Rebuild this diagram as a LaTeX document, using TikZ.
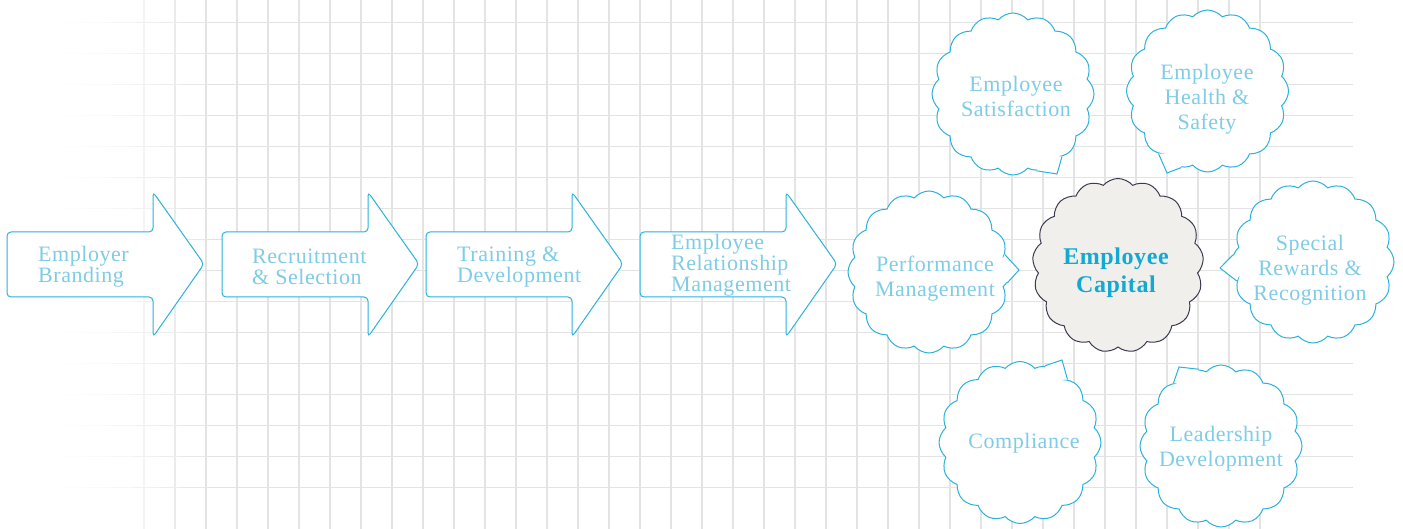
\documentclass[tikz,border=0pt]{standalone}
\usepackage{fontspec}
\setmainfont{Liberation Serif}[LetterSpace=2.5]
\usetikzlibrary{shapes.symbols,calc}
\definecolor{gridgray}{HTML}{E3E3E3}
\definecolor{outcyan}{HTML}{2AB2DC}
\definecolor{txtblue}{HTML}{7FCCE6}
\definecolor{capblue}{HTML}{12A9D2}
\definecolor{corefill}{HTML}{F1EFEB}
\definecolor{coreline}{HTML}{3C3A52}
\begin{document}
\begin{tikzpicture}[x=1pt,y=-1pt]
			\tikzstyle{gridline} = [gridgray, line width=1.1pt]
			\tikzstyle{flowarrow} = [draw=outcyan, fill=white, line width=1pt, rounded corners=4pt]
			\tikzstyle{flowtext} = [anchor=west, align=left, inner sep=0, text=txtblue, font=\fontsize{22}{21}\selectfont]
			\tikzstyle{bubble} = [cloud, cloud puffs=16, cloud puff arc=100, cloud ignores aspect, draw=outcyan, fill=white, line width=1pt, minimum width=162pt, minimum height=162pt, inner sep=0]
			\tikzstyle{core} = [bubble, cloud puffs=17, draw=coreline, fill=corefill, minimum width=171pt, minimum height=174pt]
			\tikzstyle{bubbletext} = [align=center, inner sep=0, text=txtblue, font=\fontsize{22}{25}\selectfont]
			\tikzstyle{coretext} = [bubbletext, text=capblue, font=\bfseries\fontsize{24}{27.5}\selectfont]
			\tikzstyle{tail} = [draw=outcyan, line width=1pt, line join=miter]
			\useasboundingbox (0,0) rectangle (1403,529);
			% grid paper
			\foreach \gx in {206,237,...,1260}
			{
				\draw[gridline] (\gx,0) -- (\gx,529);
			}
			\draw[gridline, gridgray!40] (144,0) -- (144,529);
			\draw[gridline, gridgray!70] (175,0) -- (175,529);
			\foreach \gy in {22.3,53.3,...,488}
			{
				\draw[gridline] (206,\gy) -- (1353,\gy);
				\foreach \fx/\fk in {62/8,86/18,110/32,134/48,158/64,182/82}
					\draw[gridline, gridgray!\fk] (\fx,\gy) -- (\fx+24,\gy);
			}
			% process arrows
			\foreach \ax in {7,222,426,640}
			{
				\draw[flowarrow] (\ax,232) -- (\ax+146,232) -- (\ax+146,192) -- (\ax+197,264) -- (\ax+146,337) -- (\ax+146,297) -- (\ax,297) -- cycle;
			}
			\node[flowtext] (brand) at (38,267) {Employer\\Branding};
			\node[flowtext] (recruit) at (252,267) {Recruitment\\\& Selection};
			\node[flowtext] (train) at (457,267) {Training \&\\Development};
			\node[flowtext] (relation) at (671,265) {Employee\\Relationship\\Management};
			% clouds
			\node[bubble] (perf) at (929,272) {};
			\node[core] (capital) at (1118,265.5) {};
			\node[bubble] (satis) at (1013,94) {};
			\node[bubble] (health) at (1207.5,91) {};
			\node[bubble] (special) at (1313,262) {};
			\node[bubble] (comply) at (1020,442.5) {};
			\node[bubble] (leader) at (1221,446) {};
			% callout tails
			\foreach \nd/\tx/\ty/\aa/\ab in {perf/1019/270/13/-8, satis/1057/174/-73/-52, health/1167/173/-128/-109, special/1220/268/175/194, comply/1062/360/72/53, leader/1179/367/127/106}
			{
				\coordinate (\nd-tip) at (\tx,\ty);
				\fill[white] (\nd.\aa) -- (\nd-tip) -- (\nd.\ab) -- ($(\nd.center)!0.75!(\nd-tip)$) -- cycle;
				\draw[tail] (\nd.\aa) -- (\nd-tip) -- (\nd.\ab);
			}
			% cloud texts
			\node[bubbletext] (perf-txt) at (935,279) {Performance\\Management};
			\node[coretext] (capital-txt) at (1116,272.5) {Employee\\Capital};
			\node[bubbletext] (satis-txt) at (1016,96) {Employee\\Satisfaction};
			\node[bubbletext] (health-txt) at (1207,99) {Employee\\Health \&\\Safety};
			\node[bubbletext] (special-txt) at (1310,270) {Special\\Rewards \&\\Recognition};
			\node[bubbletext] (comply-txt) at (1024,443.5) {Compliance};
			\node[bubbletext] (leader-txt) at (1221,449) {Leadership\\Development};
\end{tikzpicture}
\end{document}
